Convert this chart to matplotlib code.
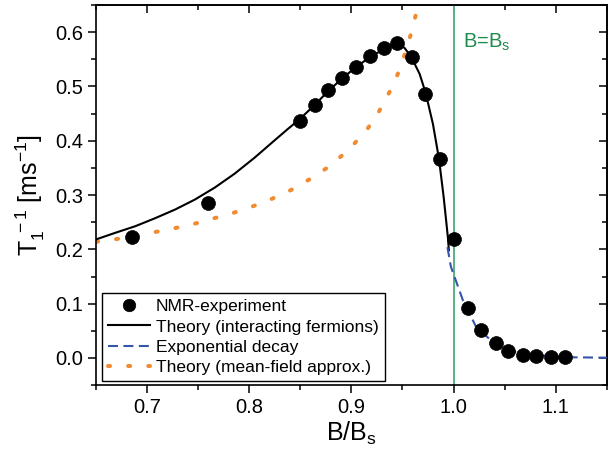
import numpy as np
import matplotlib
matplotlib.use("Agg")
import matplotlib.pyplot as plt
from matplotlib.ticker import MultipleLocator

plt.rcParams['font.family'] = ['Liberation Sans', 'DejaVu Sans']
plt.rcParams['mathtext.fontset'] = 'custom'
plt.rcParams['mathtext.rm'] = 'Liberation Sans'
plt.rcParams['mathtext.it'] = 'Liberation Sans'

# NMR data
b_exp = [0.685, 0.760, 0.850, 0.864, 0.877, 0.891, 0.904, 0.918, 0.932, 0.945,
         0.959, 0.972, 0.987, 1.000, 1.0145, 1.027, 1.0415, 1.0537, 1.068,
         1.081, 1.095, 1.109]
t1_exp = [0.222, 0.285, 0.437, 0.465, 0.493, 0.516, 0.536, 0.556, 0.570, 0.580,
          0.555, 0.487, 0.367, 0.219, 0.092, 0.051, 0.027, 0.012, 0.0055,
          0.003, 0.002, 0.001]

# theory, interacting fermions
b_int = [0.6494, 0.6688, 0.6883, 0.7078, 0.7273, 0.7467, 0.7662, 0.7857, 0.8052,
         0.8247, 0.8376, 0.850, 0.864, 0.877, 0.891, 0.904, 0.918, 0.932, 0.939,
         0.9457, 0.952, 0.9587, 0.9668, 0.9727, 0.9798, 0.9857, 0.9903, 0.9944,
         0.9954]
t1_int = [0.218, 0.2305, 0.2426, 0.2574, 0.2733, 0.2917, 0.3138, 0.3395, 0.3689,
          0.4007, 0.4215, 0.441, 0.466, 0.491, 0.515, 0.535, 0.554, 0.569, 0.575,
          0.5797, 0.571, 0.554, 0.523, 0.488, 0.431, 0.367, 0.2966, 0.223,
          0.1985]

# exponential decay
b_dec = [0.9940, 0.9974, 1.009, 1.022, 1.038, 1.0577, 1.0804, 1.1129, 1.15]
t1_dec = [0.204, 0.168, 0.107, 0.0575, 0.030, 0.0116, 0.0055, 0.0013, 0.0005]

# theory, mean-field approx.
b_mf = [0.650, 0.670, 0.689, 0.708, 0.727, 0.746, 0.765, 0.784, 0.803, 0.822,
        0.8405, 0.859, 0.8785, 0.897, 0.9145, 0.927, 0.9376, 0.946, 0.9525,
        0.9583, 0.963, 0.9655]
t1_mf = [0.214, 0.219, 0.225, 0.232, 0.239, 0.247, 0.257, 0.267, 0.279, 0.293,
         0.309, 0.329, 0.353, 0.383, 0.4185, 0.454, 0.491, 0.5255, 0.561,
         0.597, 0.632, 0.655]

b_sat = 1.0

fig = plt.figure(figsize=(6.16, 4.59), dpi=100)
ax = fig.add_axes([0.156, 0.161, 0.829, 0.828])

ax.axvline(b_sat, color='#55b283', lw=1.4, zorder=1)
ax.plot(b_mf, t1_mf, color='#f28a30', lw=2.9, linestyle=(0, (0.5, 4.5)),
        dash_capstyle='round', label='Theory (mean-field approx.)', zorder=2)
ax.plot(b_int, t1_int, color='black', lw=1.5, label='Theory (interacting fermions)', zorder=3)
ax.plot(b_dec, t1_dec, color='#3556a8', lw=1.5, linestyle=(0, (4.8, 2.6)),
        label='Exponential decay', zorder=3)
ax.plot(b_exp, t1_exp, 'o', color='black', ms=10, mew=0.5, label='NMR-experiment', zorder=4)

ax.text(1.009, 0.581, r'B=B$_\mathregular{s}$', color='#1f8c4c', fontsize=14.5,
        va='center', ha='left')

ax.set_xlim(0.65, 1.15)
ax.set_ylim(-0.05, 0.65)
ax.xaxis.set_major_locator(MultipleLocator(0.1))
ax.xaxis.set_minor_locator(MultipleLocator(0.05))
ax.yaxis.set_major_locator(MultipleLocator(0.1))
ax.yaxis.set_minor_locator(MultipleLocator(0.05))
ax.set_xticks([0.7, 0.8, 0.9, 1.0, 1.1])
ax.set_xticklabels(['0.7', '0.8', '0.9', '1.0', '1.1'])
ax.set_yticks([0.0, 0.1, 0.2, 0.3, 0.4, 0.5, 0.6])
ax.set_yticklabels(['0.0', '0.1', '0.2', '0.3', '0.4', '0.5', '0.6'])

for s in ax.spines.values():
    s.set_linewidth(1.2)
ax.tick_params(which='both', direction='out', labelsize=14.5, width=1.1,
               top=False, right=False)
ax.tick_params(which='major', length=6)
ax.tick_params(which='minor', length=3.5)
# mirrored inward ticks on top and right
axt = ax.secondary_xaxis('top')
axt.xaxis.set_major_locator(MultipleLocator(0.1))
axt.xaxis.set_minor_locator(MultipleLocator(0.05))
axt.tick_params(which='both', direction='in', labeltop=False, width=1.1)
axt.tick_params(which='major', length=6)
axt.tick_params(which='minor', length=3.5)
axr = ax.secondary_yaxis('right')
axr.yaxis.set_major_locator(MultipleLocator(0.1))
axr.yaxis.set_minor_locator(MultipleLocator(0.05))
axr.tick_params(which='both', direction='in', labelright=False, width=1.1)
axr.tick_params(which='major', length=6)
axr.tick_params(which='minor', length=3.5)
axt.spines['top'].set_linewidth(1.2)
axr.spines['right'].set_linewidth(1.2)

ax.set_xlabel(r'B/B$_\mathregular{s}$', fontsize=18, labelpad=2)
ax.set_ylabel(r'T$_\mathregular{1}^\mathregular{\ -1}$ [ms$^\mathregular{-1}$]', fontsize=18, labelpad=6)

h, l = ax.get_legend_handles_labels()
order = [3, 1, 2, 0]
leg = ax.legend([h[i] for i in order], [l[i] for i in order], loc='lower left',
                bbox_to_anchor=(0.012, 0.01), borderaxespad=0, fontsize=12.5,
                fancybox=False, framealpha=1, edgecolor='black',
                handlelength=2.4, handletextpad=0.35, labelspacing=0.3,
                borderpad=0.35, markerscale=0.9)
leg.get_frame().set_linewidth(1.0)

fig.savefig('out.png', dpi=100)
